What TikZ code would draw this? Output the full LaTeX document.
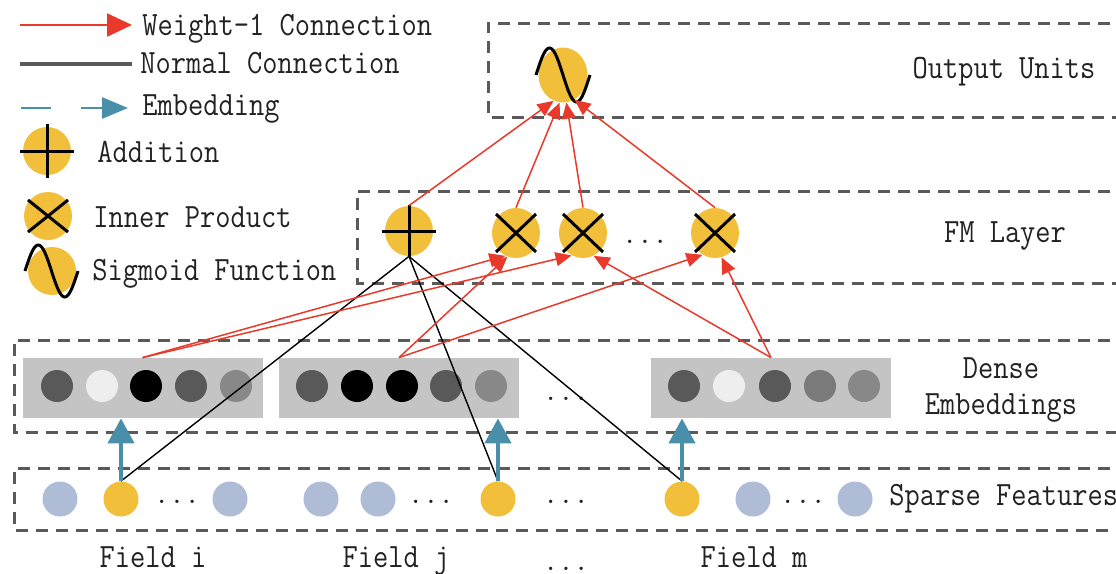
\documentclass[tikz,border=0pt]{standalone}
\usepackage{fontspec}
\usepackage{graphicx}
\usetikzlibrary{arrows.meta,shapes.geometric,calc}
\definecolor{ylw}{HTML}{F2BF3A}
\definecolor{sblue}{HTML}{AEBCD6}
\definecolor{redc}{HTML}{E8392B}
\definecolor{embc}{HTML}{4A8FAA}
\definecolor{dgray}{HTML}{5A5A5A}
\definecolor{boxg}{HTML}{C4C4C4}
\definecolor{txtc}{HTML}{222222}
\definecolor{cdark}{HTML}{595959}
\definecolor{clight}{HTML}{EEEEEE}
\definecolor{cmid}{HTML}{888888}
\definecolor{cmid2}{HTML}{7A7A7A}
\newcommand{\tx}[1]{\scalebox{1}[1.15]{#1}}
\begin{document}
\begin{tikzpicture}[x=0.5pt,y=-0.5pt,
  lay/.style={draw=dgray, line width=1.5pt, dash pattern=on 6pt off 4pt},
  lbl/.style={font={\fontsize{14.8}{17}\selectfont\ttfamily}, text=txtc, inner sep=0pt},
  op/.style={ellipse, fill=ylw, minimum width=24pt, minimum height=25pt, inner sep=0pt},
  leg/.style={circle, fill=ylw, minimum size=24pt, inner sep=0pt},
  sp/.style={circle, fill=sblue, minimum size=17.5pt, inner sep=0pt},
  sy/.style={circle, fill=ylw, minimum size=17.5pt, inner sep=0pt},
  emb/.style={circle, minimum size=16pt, inner sep=0pt},
  ebox/.style={fill=boxg, minimum width=120pt, minimum height=30pt, inner sep=0pt},
  sym/.style={draw=black, line width=1.5pt},
  wone/.style={draw=redc, line width=0.75pt, -{Triangle[length=8pt,width=7pt]}},
  norm/.style={draw=black, line width=0.7pt},
  embarr/.style={draw=embc, line width=2.2pt, -{Triangle[length=12.5pt,width=13pt]}}
]
\useasboundingbox (0,0) rectangle (1116,574);
\clip (0,0) rectangle (1116,574);

% layer frames
\draw[lay] (1130,23) -- (488,23) -- (488,117) -- (1130,117);
\draw[lay] (1130,191) -- (357,191) -- (357,283) -- (1130,283);
\draw[lay] (1130,340) -- (14,340) -- (14,432) -- (1130,432);
\draw[lay] (1130,468) -- (14,468) -- (14,530) -- (1130,530);

% layer labels
\node[lbl, anchor=base] (tout) at (1004,78) {\tx{Output Units}};
\node[lbl, anchor=base] (tfm) at (1005,242) {\tx{FM Layer}};
\node[lbl, anchor=base] (tde1) at (1001,378) {\tx{Dense}};
\node[lbl, anchor=base] (tde2) at (1001,414) {\tx{Embeddings}};
\node[lbl, anchor=base west] (tsp) at (889,505) {\tx{Sparse Features}};

% legend
\coordinate (l1a) at (20,25); \coordinate (l1b) at (132,25);
\draw[redc, line width=1.2pt, -{Triangle[length=12.5pt,width=11.5pt]}] (l1a) -- (l1b);
\node[lbl, anchor=base west] (lt1) at (142,35) {\tx{Weight-1 Connection}};
\coordinate (l2a) at (20,64); \coordinate (l2b) at (132,64);
\draw[dgray, line width=1.7pt] (l2a) -- (l2b);
\node[lbl, anchor=base west] (lt2) at (140,73) {\tx{Normal Connection}};
\coordinate (l3a) at (21,108); \coordinate (l3b) at (128,108);
\draw[embc, line width=1.4pt, dash pattern=on 15pt off 15pt, -{Triangle[length=13pt,width=10.5pt]}] (l3a) -- (l3b);
\node[lbl, anchor=base west] (lt3) at (142,115) {\tx{Embedding}};

\node[leg] (ladd) at (47,151) {};
\draw[sym] ($(ladd)+(-27,0)$) -- ($(ladd)+(27,0)$) ($(ladd)+(0,-27)$) -- ($(ladd)+(0,27)$);
\node[lbl, anchor=base west] (lt4) at (97,162) {\tx{Addition}};

\node[leg] (lip) at (48,216) {};
\draw[sym] ($(lip)+(-20,-16)$) -- ($(lip)+(20,16)$) ($(lip)+(20,-16)$) -- ($(lip)+(-20,16)$);
\node[lbl, anchor=base west] (lt5) at (93,227) {\tx{Inner Product}};

\node[leg] (lsig) at (52,271) {};
\draw[sym] plot[domain=0:360, samples=60, smooth] ({25+53*(\x/360)},{271-26*sin(\x)});
\node[lbl, anchor=base west] (lt6) at (92,280) {\tx{Sigmoid Function}};

% dense embeddings
\node[ebox] (e1) at (142.5,388) {};
\node[ebox] (e2) at (399,388) {};
\node[ebox] (e3) at (771,388) {};
\foreach \x/\c [count=\i] in {57/cdark,102/clight,146/black,191/cdark,236/cmid}
  \node[emb, fill=\c] (ea\i) at (\x,386) {};
\foreach \x/\c [count=\i] in {312/cdark,357/black,402/black,446/cdark,491/cmid}
  \node[emb, fill=\c] (eb\i) at (\x,386) {};
\foreach \x/\c [count=\i] in {684/cdark,729/clight,775/cdark,820/cmid2,864/cmid}
  \node[emb, fill=\c] (ec\i) at (\x,386) {};
\node[lbl, anchor=base] (dd) at (566,400) {...};

% sparse features
\node[sp] (s1) at (60,499) {};
\node[sy] (fi) at (121,499) {};
\node[lbl, anchor=base] (d1) at (177,503) {...};
\node[sp] (s2) at (230,499) {};
\node[sp] (s3) at (321,499) {};
\node[sp] (s4) at (378,499) {};
\node[lbl, anchor=base] (d2) at (431,503) {...};
\node[sy] (fj) at (498,499) {};
\node[lbl, anchor=base] (d3) at (566,503) {...};
\node[sy] (fm) at (682,499) {};
\node[sp] (s5) at (753,499) {};
\node[lbl, anchor=base] (d4) at (803,503) {...};
\node[sp] (s6) at (855,499) {};

% field labels
\node[lbl, anchor=base] (ffi) at (153,567) {\tx{Field i}};
\node[lbl, anchor=base] (ffj) at (396,567) {\tx{Field j}};
\node[lbl, anchor=base] (ffd) at (566,570) {...};
\node[lbl, anchor=base] (ffm) at (754,567) {\tx{Field m}};

% FM layer
\node[op] (plus) at (409,231) {};
\draw[sym] ($(plus)+(-27,0)$) -- ($(plus)+(27,0)$) ($(plus)+(0,-26)$) -- ($(plus)+(0,26)$);
\node[op] (x1) at (516,233) {};
\node[op] (x2) at (583,233) {};
\node[lbl, anchor=base] (fdots) at (645,243) {...};
\node[op] (x4) at (715,233) {};
\foreach \n in {x1,x2,x4}
  \draw[sym] ($(\n)+(-20,-19)$) -- ($(\n)+(20,19)$) ($(\n)+(20,-19)$) -- ($(\n)+(-20,19)$);

% output
\node[op, minimum width=24.5pt, minimum height=27.5pt] (sig) at (563,75) {};
\draw[sym] plot[domain=0:360, samples=60, smooth] ({536+54*(\x/360)},{75-27*sin(\x)});

% normal connections
\draw[norm] (plus.south) -- (fi.north);
\draw[norm] (plus.south) -- (fj.north);
\draw[norm] (plus.south) -- (fm.north);

% weight-1 connections
\draw[wone] (e1.north) -- (x1.245);
\draw[wone] (e1.north) -- (x2.243);
\draw[wone] (e2.north) -- (x1.250);
\draw[wone] (e2.north) -- (x4.240);
\draw[wone] (e3.north) -- (x2.295);
\draw[wone] (e3.north) -- (x4.285);
\draw[wone] (plus.north) -- (sig.250);
\draw[wone] (x1.north) -- (sig.263);
\draw[wone] (x2.north) -- (sig.277);
\draw[wone] (x4.north) -- (sig.295);

% embedding arrows
\draw[embarr] (fi.north) -- (fi.north |- e1.south);
\draw[embarr] (fj.north) -- (fj.north |- e2.south);
\draw[embarr] (fm.north) -- (fm.north |- e3.south);
\end{tikzpicture}
\end{document}
